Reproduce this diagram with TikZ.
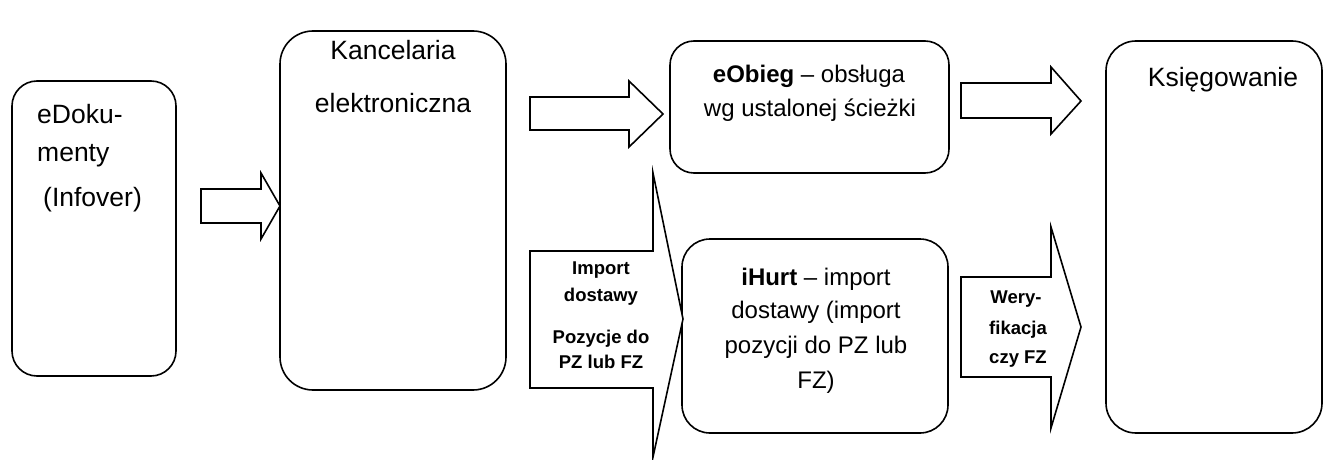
\documentclass[tikz,border=0pt]{standalone}
\usepackage{fontspec}
\setmainfont{Liberation Sans}
\begin{document}
\begin{tikzpicture}[x=1pt,y=-1pt,
  box/.style={draw=black, line width=1.6pt, fill=white, inner sep=0pt, outer sep=0pt},
  blockarrow/.style={draw=black, line width=1.6pt, fill=white, line join=miter},
  big/.style={font=\fontsize{26.5}{30}\selectfont, inner sep=0pt, anchor=base},
  mid/.style={font=\fontsize{24}{28}\selectfont, inner sep=0pt, anchor=base},
  small/.style={font=\fontsize{18.5}{22}\selectfont\bfseries, inner sep=0pt, anchor=base}]
\useasboundingbox (0,0) rectangle (1326,460);

% process boxes
\node[box, rounded corners=25pt, minimum width=164pt, minimum height=295pt] (edoc) at (94,228.5) {};
\node[box, rounded corners=33pt, minimum width=226pt, minimum height=359pt] (kanc) at (393,210.5) {};
\node[box, rounded corners=24pt, minimum width=279pt, minimum height=132pt] (eobieg) at (809.5,107) {};
\node[box, rounded corners=28pt, minimum width=266pt, minimum height=194pt] (ihurt) at (815,336) {};
\node[box, rounded corners=30pt, minimum width=216pt, minimum height=392pt] (ksieg) at (1214,237) {};

% block arrows
\draw[blockarrow] (201,189) -- (261,189) -- (261,173) -- (280,206) -- (261,239) -- (261,223) -- (201,223) -- cycle;
\draw[blockarrow] (530,97) -- (629,97) -- (629,81) -- (663,114) -- (629,147) -- (629,130) -- (530,130) -- cycle;
\draw[blockarrow] (961,83) -- (1051,83) -- (1051,67) -- (1081,101) -- (1051,134) -- (1051,118) -- (961,118) -- cycle;
\draw[blockarrow] (530,251) -- (653,251) -- (653,173) -- (683,319) -- (653,457) -- (653,388) -- (530,388) -- cycle;
\draw[blockarrow] (961,277) -- (1051,277) -- (1051,227) -- (1081,327) -- (1051,428) -- (1051,377) -- (961,377) -- cycle;

% texts of eDokumenty
\node[big, anchor=base west] (t1a) at (37,124) {eDoku-};
\node[big, anchor=base west] (t1b) at (37,161) {menty};
\node[big, anchor=base west] (t1c) at (43,206) {(Infover)};

% texts of Kancelaria
\node[big] (t2a) at (393,60) {Kancelaria};
\node[big] (t2b) at (393,112) {elektroniczna};

% texts of eObieg
\node[mid] (t3a) at (809,83) {\textbf{eObieg} – obsługa};
\node[mid] (t3b) at (810,116) {wg ustalonej ścieżki};

% texts of iHurt
\node[mid] (t4a) at (816,285) {\textbf{iHurt} – import};
\node[mid] (t4b) at (816,318) {dostawy (import};
\node[mid] (t4c) at (816,353) {pozycji do PZ lub};
\node[mid] (t4d) at (816,388) {FZ)};

% arrow labels
\node[small] (t5a) at (601,274.5) {Import};
\node[small] (t5b) at (601,301.5) {dostawy};
\node[small] (t5c) at (601,343.5) {Pozycje do};
\node[small] (t5d) at (601,368.5) {PZ lub FZ};
\node[small] (t6a) at (1016,303.5) {Wery-};
\node[small] (t6b) at (1018,334.5) {fikacja};
\node[small] (t6c) at (1018,363.5) {czy FZ};

% text of Księgowanie
\node[big] (t7) at (1223,87) {Księgowanie};
\end{tikzpicture}
\end{document}
